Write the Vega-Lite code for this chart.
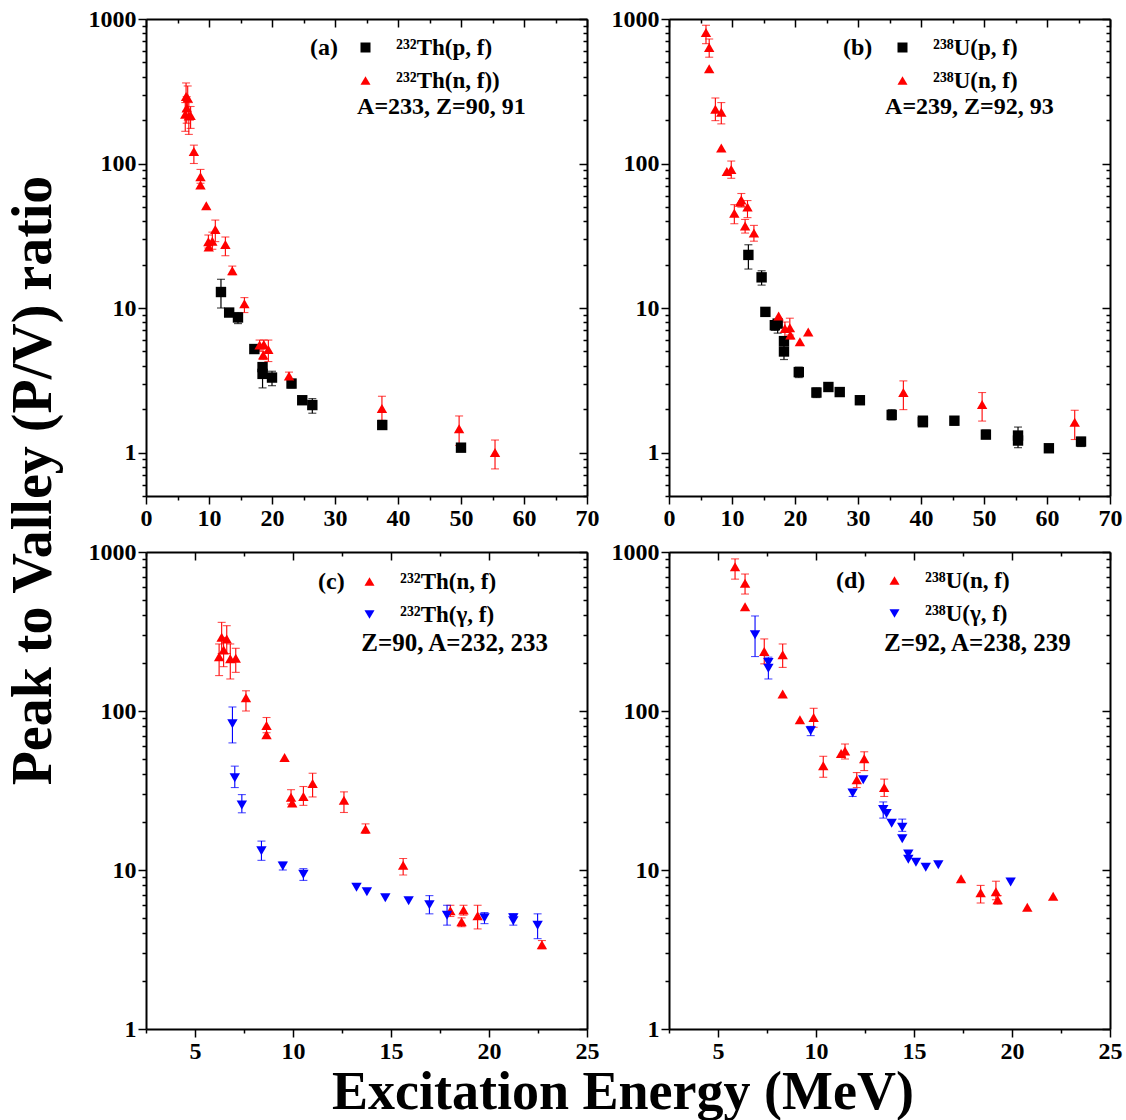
{
  "$schema": "https://vega.github.io/schema/vega-lite/v6.json",
  "background": "white",
  "padding": {"left": 5, "right": 8, "top": 7, "bottom": 0},
  "config": {
    "view": {"stroke": null},
    "font": "Liberation Serif",
    "style": {"guide-label": {"font": "Liberation Serif", "fontWeight": "bold"}, "guide-title": {"font": "Liberation Serif", "fontWeight": "bold"}},
    "axis": {"grid": false, "domainColor": "black", "domainWidth": 2, "tickColor": "black", "tickWidth": 1.5, "labelFont": "Liberation Serif", "labelFontWeight": "bold", "labelFontSize": 24, "labelColor": "black", "labelPadding": 2, "labelFlush": false, "labelOverlap": false, "labelBound": false},
    "legend": {"titleFont": "Liberation Serif", "titleFontSize": 24, "titleFontWeight": "bold", "titleColor": "black", "labelFont": "Liberation Serif", "labelFontSize": 23, "labelFontWeight": "bold", "labelColor": "black", "labelLimit": 400, "symbolStrokeWidth": 0, "titleAnchor": "start", "titleBaseline": "top"}
  },
  "datasets": {
    "a": [
      {"s": "²³²Th(p, f)", "E": 11.9, "r": 12.9, "lo": 10.0, "hi": 15.8},
      {"s": "²³²Th(p, f)", "E": 13.2, "r": 9.3, "lo": 8.8, "hi": 9.9},
      {"s": "²³²Th(p, f)", "E": 14.6, "r": 8.6, "lo": 7.8, "hi": 9.3},
      {"s": "²³²Th(p, f)", "E": 17.2, "r": 5.2},
      {"s": "²³²Th(p, f)", "E": 18.5, "r": 3.9},
      {"s": "²³²Th(p, f)", "E": 18.5, "r": 3.5, "lo": 2.8, "hi": 4.0},
      {"s": "²³²Th(p, f)", "E": 20.0, "r": 3.3, "lo": 2.9, "hi": 3.65},
      {"s": "²³²Th(p, f)", "E": 23.1, "r": 3.0, "lo": 2.8, "hi": 3.2},
      {"s": "²³²Th(p, f)", "E": 24.8, "r": 2.3, "lo": 2.2, "hi": 2.42},
      {"s": "²³²Th(p, f)", "E": 26.4, "r": 2.13, "lo": 1.87, "hi": 2.36},
      {"s": "²³²Th(p, f)", "E": 37.5, "r": 1.55, "lo": 1.47, "hi": 1.65},
      {"s": "²³²Th(p, f)", "E": 50.0, "r": 1.08},
      {"s": "²³²Th(n, f))", "E": 6.23, "r": 219, "lo": 167, "hi": 264},
      {"s": "²³²Th(n, f))", "E": 6.36, "r": 291, "lo": 230, "hi": 361},
      {"s": "²³²Th(n, f))", "E": 6.46, "r": 242, "lo": 190, "hi": 290},
      {"s": "²³²Th(n, f))", "E": 6.62, "r": 284, "lo": 230, "hi": 344},
      {"s": "²³²Th(n, f))", "E": 6.8, "r": 213, "lo": 159, "hi": 264},
      {"s": "²³²Th(n, f))", "E": 7.08, "r": 215, "lo": 175, "hi": 248},
      {"s": "²³²Th(n, f))", "E": 7.6, "r": 121, "lo": 100, "hi": 134},
      {"s": "²³²Th(n, f))", "E": 8.65, "r": 81, "lo": 73, "hi": 91},
      {"s": "²³²Th(n, f))", "E": 8.65, "r": 71},
      {"s": "²³²Th(n, f))", "E": 9.57, "r": 51},
      {"s": "²³²Th(n, f))", "E": 9.9, "r": 28.7, "lo": 26, "hi": 32},
      {"s": "²³²Th(n, f))", "E": 9.96, "r": 26.4},
      {"s": "²³²Th(n, f))", "E": 10.53, "r": 29, "lo": 25.5, "hi": 33.5},
      {"s": "²³²Th(n, f))", "E": 11.0, "r": 35, "lo": 28.8, "hi": 40.6},
      {"s": "²³²Th(n, f))", "E": 12.6, "r": 27.5, "lo": 23, "hi": 31},
      {"s": "²³²Th(n, f))", "E": 13.7, "r": 18.1, "lo": 17, "hi": 19.5},
      {"s": "²³²Th(n, f))", "E": 15.62, "r": 10.7, "lo": 9.3, "hi": 11.8},
      {"s": "²³²Th(n, f))", "E": 18.03, "r": 5.55, "lo": 5.1, "hi": 6.0},
      {"s": "²³²Th(n, f))", "E": 18.6, "r": 4.73, "lo": 4.4, "hi": 5.0},
      {"s": "²³²Th(n, f))", "E": 18.7, "r": 5.6, "lo": 5.2, "hi": 6.0},
      {"s": "²³²Th(n, f))", "E": 19.42, "r": 5.16, "lo": 4.26, "hi": 6.0},
      {"s": "²³²Th(n, f))", "E": 22.7, "r": 3.39, "lo": 3.2, "hi": 3.6},
      {"s": "²³²Th(n, f))", "E": 37.45, "r": 2.02, "lo": 1.67, "hi": 2.45},
      {"s": "²³²Th(n, f))", "E": 49.7, "r": 1.46, "lo": 1.12, "hi": 1.79},
      {"s": "²³²Th(n, f))", "E": 55.4, "r": 1.0, "lo": 0.77, "hi": 1.22}
    ],
    "b": [
      {"s": "²³⁸U(p, f)", "E": 12.6, "r": 23.3, "lo": 18.6, "hi": 27.4},
      {"s": "²³⁸U(p, f)", "E": 14.7, "r": 16.3, "lo": 14.4, "hi": 18.1},
      {"s": "²³⁸U(p, f)", "E": 15.3, "r": 9.4},
      {"s": "²³⁸U(p, f)", "E": 16.8, "r": 7.6, "lo": 7.0, "hi": 8.1},
      {"s": "²³⁸U(p, f)", "E": 17.25, "r": 7.8, "lo": 6.7, "hi": 8.3},
      {"s": "²³⁸U(p, f)", "E": 18.25, "r": 5.9},
      {"s": "²³⁸U(p, f)", "E": 18.25, "r": 5.0, "lo": 4.4, "hi": 5.5},
      {"s": "²³⁸U(p, f)", "E": 20.6, "r": 3.6, "lo": 3.3, "hi": 3.9},
      {"s": "²³⁸U(p, f)", "E": 23.4, "r": 2.6, "lo": 2.4, "hi": 2.8},
      {"s": "²³⁸U(p, f)", "E": 25.3, "r": 2.84, "lo": 2.7, "hi": 2.95},
      {"s": "²³⁸U(p, f)", "E": 27.1, "r": 2.62, "lo": 2.45, "hi": 2.8},
      {"s": "²³⁸U(p, f)", "E": 30.3, "r": 2.3, "lo": 2.15, "hi": 2.45},
      {"s": "²³⁸U(p, f)", "E": 35.35, "r": 1.82, "lo": 1.68, "hi": 1.98},
      {"s": "²³⁸U(p, f)", "E": 40.3, "r": 1.66, "lo": 1.55, "hi": 1.75},
      {"s": "²³⁸U(p, f)", "E": 40.3, "r": 1.62},
      {"s": "²³⁸U(p, f)", "E": 45.3, "r": 1.66, "lo": 1.55, "hi": 1.76},
      {"s": "²³⁸U(p, f)", "E": 50.3, "r": 1.33, "lo": 1.25, "hi": 1.43},
      {"s": "²³⁸U(p, f)", "E": 55.4, "r": 1.31, "lo": 1.2, "hi": 1.5},
      {"s": "²³⁸U(p, f)", "E": 55.4, "r": 1.21, "lo": 1.08, "hi": 1.3},
      {"s": "²³⁸U(p, f)", "E": 60.3, "r": 1.07, "lo": 1.03, "hi": 1.11},
      {"s": "²³⁸U(p, f)", "E": 65.4, "r": 1.19, "lo": 1.1, "hi": 1.27},
      {"s": "²³⁸U(n, f)", "E": 5.87, "r": 808, "lo": 675, "hi": 905},
      {"s": "²³⁸U(n, f)", "E": 6.38, "r": 635, "lo": 544, "hi": 727},
      {"s": "²³⁸U(n, f)", "E": 6.38, "r": 453},
      {"s": "²³⁸U(n, f)", "E": 7.36, "r": 237, "lo": 198, "hi": 284},
      {"s": "²³⁸U(n, f)", "E": 8.3, "r": 226, "lo": 188, "hi": 264},
      {"s": "²³⁸U(n, f)", "E": 8.3, "r": 128},
      {"s": "²³⁸U(n, f)", "E": 9.18, "r": 88},
      {"s": "²³⁸U(n, f)", "E": 9.88, "r": 91, "lo": 79, "hi": 104},
      {"s": "²³⁸U(n, f)", "E": 10.37, "r": 45.3, "lo": 38.3, "hi": 51.9},
      {"s": "²³⁸U(n, f)", "E": 11.28, "r": 54},
      {"s": "²³⁸U(n, f)", "E": 11.48, "r": 56, "lo": 49.9, "hi": 62},
      {"s": "²³⁸U(n, f)", "E": 12.08, "r": 37, "lo": 33, "hi": 41},
      {"s": "²³⁸U(n, f)", "E": 12.46, "r": 50, "lo": 42.2, "hi": 55.4},
      {"s": "²³⁸U(n, f)", "E": 13.48, "r": 33, "lo": 29, "hi": 37.3},
      {"s": "²³⁸U(n, f)", "E": 17.4, "r": 8.8},
      {"s": "²³⁸U(n, f)", "E": 18.4, "r": 7.2, "lo": 6.2, "hi": 8.0},
      {"s": "²³⁸U(n, f)", "E": 19.18, "r": 7.3, "lo": 6.5, "hi": 8.5},
      {"s": "²³⁸U(n, f)", "E": 19.27, "r": 6.5, "lo": 6.1, "hi": 6.9},
      {"s": "²³⁸U(n, f)", "E": 20.78, "r": 5.83},
      {"s": "²³⁸U(n, f)", "E": 22.1, "r": 6.83},
      {"s": "²³⁸U(n, f)", "E": 37.2, "r": 2.6, "lo": 1.98, "hi": 3.13},
      {"s": "²³⁸U(n, f)", "E": 49.7, "r": 2.15, "lo": 1.65, "hi": 2.6},
      {"s": "²³⁸U(n, f)", "E": 64.4, "r": 1.62, "lo": 1.23, "hi": 1.96}
    ],
    "c": [
      {"s": "²³²Th(n, f)", "E": 6.23, "r": 219, "lo": 167, "hi": 264},
      {"s": "²³²Th(n, f)", "E": 6.36, "r": 291, "lo": 230, "hi": 361},
      {"s": "²³²Th(n, f)", "E": 6.46, "r": 242, "lo": 190, "hi": 290},
      {"s": "²³²Th(n, f)", "E": 6.62, "r": 284, "lo": 230, "hi": 344},
      {"s": "²³²Th(n, f)", "E": 6.8, "r": 213, "lo": 159, "hi": 264},
      {"s": "²³²Th(n, f)", "E": 7.08, "r": 215, "lo": 175, "hi": 248},
      {"s": "²³²Th(n, f)", "E": 7.6, "r": 121, "lo": 100, "hi": 134},
      {"s": "²³²Th(n, f)", "E": 8.65, "r": 81, "lo": 73, "hi": 91},
      {"s": "²³²Th(n, f)", "E": 8.65, "r": 71},
      {"s": "²³²Th(n, f)", "E": 9.57, "r": 51},
      {"s": "²³²Th(n, f)", "E": 9.9, "r": 28.7, "lo": 26, "hi": 32},
      {"s": "²³²Th(n, f)", "E": 9.96, "r": 26.4},
      {"s": "²³²Th(n, f)", "E": 10.53, "r": 29, "lo": 25.5, "hi": 33.5},
      {"s": "²³²Th(n, f)", "E": 11.0, "r": 35, "lo": 28.8, "hi": 40.6},
      {"s": "²³²Th(n, f)", "E": 12.6, "r": 27.5, "lo": 23, "hi": 31},
      {"s": "²³²Th(n, f)", "E": 13.7, "r": 18.1, "lo": 17, "hi": 19.5},
      {"s": "²³²Th(n, f)", "E": 15.62, "r": 10.7, "lo": 9.3, "hi": 11.8},
      {"s": "²³²Th(n, f)", "E": 18.03, "r": 5.55, "lo": 5.1, "hi": 6.0},
      {"s": "²³²Th(n, f)", "E": 18.6, "r": 4.73, "lo": 4.4, "hi": 5.0},
      {"s": "²³²Th(n, f)", "E": 18.7, "r": 5.6, "lo": 5.2, "hi": 6.0},
      {"s": "²³²Th(n, f)", "E": 19.42, "r": 5.16, "lo": 4.26, "hi": 6.0},
      {"s": "²³²Th(n, f)", "E": 22.7, "r": 3.39, "lo": 3.2, "hi": 3.6},
      {"s": "²³²Th(γ, f)", "E": 6.91, "r": 83, "lo": 63, "hi": 106},
      {"s": "²³²Th(γ, f)", "E": 7.03, "r": 38, "lo": 33, "hi": 45},
      {"s": "²³²Th(γ, f)", "E": 7.39, "r": 25.6, "lo": 22.9, "hi": 29.8},
      {"s": "²³²Th(γ, f)", "E": 8.39, "r": 13.2, "lo": 11.5, "hi": 15.2},
      {"s": "²³²Th(γ, f)", "E": 9.48, "r": 10.6, "lo": 10.0, "hi": 11.2},
      {"s": "²³²Th(γ, f)", "E": 10.53, "r": 9.4, "lo": 8.6, "hi": 10.2},
      {"s": "²³²Th(γ, f)", "E": 13.24, "r": 7.8},
      {"s": "²³²Th(γ, f)", "E": 13.77, "r": 7.3},
      {"s": "²³²Th(γ, f)", "E": 14.71, "r": 6.7},
      {"s": "²³²Th(γ, f)", "E": 15.9, "r": 6.4},
      {"s": "²³²Th(γ, f)", "E": 16.96, "r": 6.05, "lo": 5.3, "hi": 6.9},
      {"s": "²³²Th(γ, f)", "E": 17.86, "r": 5.2, "lo": 4.5, "hi": 6.0},
      {"s": "²³²Th(γ, f)", "E": 19.77, "r": 5.0, "lo": 4.6, "hi": 5.4},
      {"s": "²³²Th(γ, f)", "E": 21.24, "r": 4.8, "lo": 4.5, "hi": 5.3},
      {"s": "²³²Th(γ, f)", "E": 21.24, "r": 5.0},
      {"s": "²³²Th(γ, f)", "E": 22.48, "r": 4.5, "lo": 3.7, "hi": 5.3}
    ],
    "d": [
      {"s": "²³⁸U(n, f)", "E": 5.87, "r": 808, "lo": 675, "hi": 905},
      {"s": "²³⁸U(n, f)", "E": 6.38, "r": 635, "lo": 544, "hi": 727},
      {"s": "²³⁸U(n, f)", "E": 6.38, "r": 453},
      {"s": "²³⁸U(n, f)", "E": 7.36, "r": 237, "lo": 198, "hi": 284},
      {"s": "²³⁸U(n, f)", "E": 8.3, "r": 226, "lo": 188, "hi": 264},
      {"s": "²³⁸U(n, f)", "E": 8.3, "r": 128},
      {"s": "²³⁸U(n, f)", "E": 9.18, "r": 88},
      {"s": "²³⁸U(n, f)", "E": 9.88, "r": 91, "lo": 79, "hi": 104},
      {"s": "²³⁸U(n, f)", "E": 10.37, "r": 45.3, "lo": 38.3, "hi": 51.9},
      {"s": "²³⁸U(n, f)", "E": 11.28, "r": 54},
      {"s": "²³⁸U(n, f)", "E": 11.48, "r": 56, "lo": 49.9, "hi": 62},
      {"s": "²³⁸U(n, f)", "E": 12.08, "r": 37, "lo": 33, "hi": 41},
      {"s": "²³⁸U(n, f)", "E": 12.46, "r": 50, "lo": 42.2, "hi": 55.4},
      {"s": "²³⁸U(n, f)", "E": 13.48, "r": 33, "lo": 29, "hi": 37.3},
      {"s": "²³⁸U(n, f)", "E": 17.4, "r": 8.8},
      {"s": "²³⁸U(n, f)", "E": 18.4, "r": 7.2, "lo": 6.2, "hi": 8.0},
      {"s": "²³⁸U(n, f)", "E": 19.18, "r": 7.3, "lo": 6.5, "hi": 8.5},
      {"s": "²³⁸U(n, f)", "E": 19.27, "r": 6.5, "lo": 6.1, "hi": 6.9},
      {"s": "²³⁸U(n, f)", "E": 20.78, "r": 5.83},
      {"s": "²³⁸U(n, f)", "E": 22.1, "r": 6.83},
      {"s": "²³⁸U(γ, f)", "E": 6.89, "r": 302, "lo": 220, "hi": 396},
      {"s": "²³⁸U(γ, f)", "E": 7.57, "r": 202},
      {"s": "²³⁸U(γ, f)", "E": 7.57, "r": 186, "lo": 159, "hi": 218},
      {"s": "²³⁸U(γ, f)", "E": 9.73, "r": 75, "lo": 70, "hi": 80},
      {"s": "²³⁸U(γ, f)", "E": 11.87, "r": 30.5, "lo": 29, "hi": 32},
      {"s": "²³⁸U(γ, f)", "E": 12.41, "r": 37},
      {"s": "²³⁸U(γ, f)", "E": 13.43, "r": 24, "lo": 21.2, "hi": 26.8},
      {"s": "²³⁸U(γ, f)", "E": 13.6, "r": 22.7},
      {"s": "²³⁸U(γ, f)", "E": 13.86, "r": 19.7},
      {"s": "²³⁸U(γ, f)", "E": 14.4, "r": 18.6, "lo": 17.5, "hi": 20.9},
      {"s": "²³⁸U(γ, f)", "E": 14.4, "r": 15.7},
      {"s": "²³⁸U(γ, f)", "E": 14.71, "r": 12.6},
      {"s": "²³⁸U(γ, f)", "E": 14.71, "r": 11.7},
      {"s": "²³⁸U(γ, f)", "E": 15.1, "r": 11.2},
      {"s": "²³⁸U(γ, f)", "E": 15.6, "r": 10.4},
      {"s": "²³⁸U(γ, f)", "E": 16.24, "r": 10.8},
      {"s": "²³⁸U(γ, f)", "E": 19.93, "r": 8.4}
    ]
  },
  "title": {"text": "Peak to Valley (P/V) ratio", "orient": "left", "anchor": "middle", "font": "Liberation Serif", "fontSize": 56, "fontWeight": "bold", "color": "black", "offset": 25, "dx": 83},
  "vconcat": [
    {
      "title": {"text": "Excitation Energy (MeV)", "orient": "bottom", "anchor": "middle", "font": "Liberation Serif", "fontSize": 54, "fontWeight": "bold", "color": "black", "offset": 3, "dx": 18},
      "spacing": 10,
      "resolve": {"scale": {"color": "independent", "shape": "independent"}},
      "vconcat": [
        {
          "spacing": 12,
          "resolve": {"scale": {"color": "independent", "shape": "independent"}},
          "hconcat": [
            {
              "width": 441, "height": 477,
              "data": {"name": "a"},
              "resolve": {"axis": {"x": "independent", "y": "independent"}},
              "layer": [
                {"transform": [{"filter": "datum.s == '²³²Th(p, f)' && isValid(datum.lo)"}],
                 "mark": {"type": "errorbar", "ticks": true, "size": 8, "thickness": 1.2, "color": "#000000"},
                 "encoding": {"x": {"field": "E", "type": "quantitative", "scale": {"domain": [0, 70], "nice": false, "zero": false}, "axis": null},
                              "y": {"field": "lo", "type": "quantitative", "scale": {"type": "log", "domain": [0.5, 1000], "nice": false}, "axis": null},
                              "y2": {"field": "hi"}}},
                {"transform": [{"filter": "datum.s == '²³²Th(n, f))' && isValid(datum.lo)"}],
                 "mark": {"type": "errorbar", "ticks": true, "size": 8, "thickness": 1.1, "color": "#ff0000"},
                 "encoding": {"x": {"field": "E", "type": "quantitative", "scale": {"domain": [0, 70], "nice": false, "zero": false}, "axis": null},
                              "y": {"field": "lo", "type": "quantitative", "scale": {"type": "log", "domain": [0.5, 1000], "nice": false}, "axis": null},
                              "y2": {"field": "hi"}}},
                {"mark": {"type": "point", "filled": true, "opacity": 1, "size": 108},
                 "encoding": {
                   "x": {"field": "E", "type": "quantitative", "scale": {"domain": [0, 70], "nice": false, "zero": false}, "title": null,
                         "axis": {"orient": "bottom", "labelFont": "Liberation Serif", "values": [0, 5, 10, 15, 20, 25, 30, 35, 40, 45, 50, 55, 60, 65, 70], "labelExpr": "datum.value % 10 == 0 ? format(datum.value, 'd') : ''", "tickSize": {"condition": {"test": "datum.value % 10 == 0", "value": 8}, "value": 4}}},
                   "y": {"field": "r", "type": "quantitative", "scale": {"type": "log", "domain": [0.5, 1000], "nice": false}, "title": null,
                         "axis": {"orient": "left", "labelFont": "Liberation Serif", "values": [0.5, 0.6, 0.7, 0.8, 0.9, 1, 2, 3, 4, 5, 6, 7, 8, 9, 10, 20, 30, 40, 50, 60, 70, 80, 90, 100, 200, 300, 400, 500, 600, 700, 800, 900, 1000], "labelExpr": "(datum.value == 1 || datum.value == 10 || datum.value == 100 || datum.value == 1000) ? format(datum.value, 'd') : ''", "tickSize": {"condition": {"test": "datum.value == 1 || datum.value == 10 || datum.value == 100 || datum.value == 1000", "value": 8}, "value": 4}}},
                   "color": {"field": "s", "type": "nominal", "scale": {"domain": ["²³²Th(p, f)", "²³²Th(n, f))"], "range": ["#000000", "#ff0000"]},
                             "legend": {"orient": "none", "legendX": 164, "legendY": 17, "title": "(a)", "titleOrient": "left", "titlePadding": 16, "symbolSize": 100, "labelOffset": 19, "rowPadding": 9}},
                   "shape": {"field": "s", "type": "nominal", "scale": {"domain": ["²³²Th(p, f)", "²³²Th(n, f))"], "range": ["square", "triangle-up"]},
                             "legend": {"orient": "none", "legendX": 164, "legendY": 17, "title": "(a)", "titleOrient": "left", "titlePadding": 16, "symbolSize": 100, "labelOffset": 19, "rowPadding": 9}}
                 }},
                {"mark": {"type": "point", "opacity": 0},
                 "encoding": {
                   "x": {"field": "E", "type": "quantitative", "scale": {"domain": [0, 70], "nice": false, "zero": false}, "title": null,
                         "axis": {"orient": "top", "labels": false, "values": [0, 5, 10, 15, 20, 25, 30, 35, 40, 45, 50, 55, 60, 65, 70], "tickSize": {"condition": {"test": "datum.value % 10 == 0", "value": -8}, "value": -4}}},
                   "y": {"field": "r", "type": "quantitative", "scale": {"type": "log", "domain": [0.5, 1000], "nice": false}, "title": null,
                         "axis": {"orient": "right", "labels": false, "values": [0.5, 0.6, 0.7, 0.8, 0.9, 1, 2, 3, 4, 5, 6, 7, 8, 9, 10, 20, 30, 40, 50, 60, 70, 80, 90, 100, 200, 300, 400, 500, 600, 700, 800, 900, 1000], "tickSize": {"condition": {"test": "datum.value == 1 || datum.value == 10 || datum.value == 100 || datum.value == 1000", "value": -8}, "value": -4}}}
                 }},
                {"data": {"values": [{}]},
                 "mark": {"type": "text", "align": "left", "baseline": "middle", "font": "Liberation Serif", "fontWeight": "bold", "fontSize": 24, "color": "black"},
                 "encoding": {"x": {"datum": 33.5, "type": "quantitative", "scale": {"domain": [0, 70], "nice": false, "zero": false}, "axis": null},
                              "y": {"datum": 245, "type": "quantitative", "scale": {"type": "log", "domain": [0.5, 1000], "nice": false}, "axis": null},
                              "text": {"value": "A=233, Z=90, 91"}}}
              ]
            },
            {
              "width": 441, "height": 477,
              "data": {"name": "b"},
              "resolve": {"axis": {"x": "independent", "y": "independent"}},
              "layer": [
                {"transform": [{"filter": "datum.s == '²³⁸U(p, f)' && isValid(datum.lo)"}],
                 "mark": {"type": "errorbar", "ticks": true, "size": 8, "thickness": 1.2, "color": "#000000"},
                 "encoding": {"x": {"field": "E", "type": "quantitative", "scale": {"domain": [0, 70], "nice": false, "zero": false}, "axis": null},
                              "y": {"field": "lo", "type": "quantitative", "scale": {"type": "log", "domain": [0.5, 1000], "nice": false}, "axis": null},
                              "y2": {"field": "hi"}}},
                {"transform": [{"filter": "datum.s == '²³⁸U(n, f)' && isValid(datum.lo)"}],
                 "mark": {"type": "errorbar", "ticks": true, "size": 8, "thickness": 1.1, "color": "#ff0000"},
                 "encoding": {"x": {"field": "E", "type": "quantitative", "scale": {"domain": [0, 70], "nice": false, "zero": false}, "axis": null},
                              "y": {"field": "lo", "type": "quantitative", "scale": {"type": "log", "domain": [0.5, 1000], "nice": false}, "axis": null},
                              "y2": {"field": "hi"}}},
                {"mark": {"type": "point", "filled": true, "opacity": 1, "size": 108},
                 "encoding": {
                   "x": {"field": "E", "type": "quantitative", "scale": {"domain": [0, 70], "nice": false, "zero": false}, "title": null,
                         "axis": {"orient": "bottom", "labelFont": "Liberation Serif", "values": [0, 5, 10, 15, 20, 25, 30, 35, 40, 45, 50, 55, 60, 65, 70], "labelExpr": "datum.value % 10 == 0 ? format(datum.value, 'd') : ''", "tickSize": {"condition": {"test": "datum.value % 10 == 0", "value": 8}, "value": 4}}},
                   "y": {"field": "r", "type": "quantitative", "scale": {"type": "log", "domain": [0.5, 1000], "nice": false}, "title": null,
                         "axis": {"orient": "left", "labelFont": "Liberation Serif", "values": [0.5, 0.6, 0.7, 0.8, 0.9, 1, 2, 3, 4, 5, 6, 7, 8, 9, 10, 20, 30, 40, 50, 60, 70, 80, 90, 100, 200, 300, 400, 500, 600, 700, 800, 900, 1000], "labelExpr": "(datum.value == 1 || datum.value == 10 || datum.value == 100 || datum.value == 1000) ? format(datum.value, 'd') : ''", "tickSize": {"condition": {"test": "datum.value == 1 || datum.value == 10 || datum.value == 100 || datum.value == 1000", "value": 8}, "value": 4}}},
                   "color": {"field": "s", "type": "nominal", "scale": {"domain": ["²³⁸U(p, f)", "²³⁸U(n, f)"], "range": ["#000000", "#ff0000"]},
                             "legend": {"orient": "none", "legendX": 174, "legendY": 17, "title": "(b)", "titleOrient": "left", "titlePadding": 18, "symbolSize": 100, "labelOffset": 19, "rowPadding": 9}},
                   "shape": {"field": "s", "type": "nominal", "scale": {"domain": ["²³⁸U(p, f)", "²³⁸U(n, f)"], "range": ["square", "triangle-up"]},
                             "legend": {"orient": "none", "legendX": 174, "legendY": 17, "title": "(b)", "titleOrient": "left", "titlePadding": 18, "symbolSize": 100, "labelOffset": 19, "rowPadding": 9}}
                 }},
                {"mark": {"type": "point", "opacity": 0},
                 "encoding": {
                   "x": {"field": "E", "type": "quantitative", "scale": {"domain": [0, 70], "nice": false, "zero": false}, "title": null,
                         "axis": {"orient": "top", "labels": false, "values": [0, 5, 10, 15, 20, 25, 30, 35, 40, 45, 50, 55, 60, 65, 70], "tickSize": {"condition": {"test": "datum.value % 10 == 0", "value": -8}, "value": -4}}},
                   "y": {"field": "r", "type": "quantitative", "scale": {"type": "log", "domain": [0.5, 1000], "nice": false}, "title": null,
                         "axis": {"orient": "right", "labels": false, "values": [0.5, 0.6, 0.7, 0.8, 0.9, 1, 2, 3, 4, 5, 6, 7, 8, 9, 10, 20, 30, 40, 50, 60, 70, 80, 90, 100, 200, 300, 400, 500, 600, 700, 800, 900, 1000], "tickSize": {"condition": {"test": "datum.value == 1 || datum.value == 10 || datum.value == 100 || datum.value == 1000", "value": -8}, "value": -4}}}
                 }},
                {"data": {"values": [{}]},
                 "mark": {"type": "text", "align": "left", "baseline": "middle", "font": "Liberation Serif", "fontWeight": "bold", "fontSize": 24, "color": "black"},
                 "encoding": {"x": {"datum": 34.3, "type": "quantitative", "scale": {"domain": [0, 70], "nice": false, "zero": false}, "axis": null},
                              "y": {"datum": 245, "type": "quantitative", "scale": {"type": "log", "domain": [0.5, 1000], "nice": false}, "axis": null},
                              "text": {"value": "A=239, Z=92, 93"}}}
              ]
            }
          ]
        },
        {
          "spacing": 12,
          "resolve": {"scale": {"color": "independent", "shape": "independent"}},
          "hconcat": [
            {
              "width": 441, "height": 477,
              "data": {"name": "c"},
              "resolve": {"axis": {"x": "independent", "y": "independent"}},
              "layer": [
                {"transform": [{"filter": "datum.s == '²³²Th(n, f)' && isValid(datum.lo)"}],
                 "mark": {"type": "errorbar", "ticks": true, "size": 8, "thickness": 1.1, "color": "#ff0000"},
                 "encoding": {"x": {"field": "E", "type": "quantitative", "scale": {"domain": [2.5, 25], "nice": false, "zero": false}, "axis": null},
                              "y": {"field": "lo", "type": "quantitative", "scale": {"type": "log", "domain": [1, 1000], "nice": false}, "axis": null},
                              "y2": {"field": "hi"}}},
                {"transform": [{"filter": "datum.s == '²³²Th(γ, f)' && isValid(datum.lo)"}],
                 "mark": {"type": "errorbar", "ticks": true, "size": 8, "thickness": 1.1, "color": "#0000ff"},
                 "encoding": {"x": {"field": "E", "type": "quantitative", "scale": {"domain": [2.5, 25], "nice": false, "zero": false}, "axis": null},
                              "y": {"field": "lo", "type": "quantitative", "scale": {"type": "log", "domain": [1, 1000], "nice": false}, "axis": null},
                              "y2": {"field": "hi"}}},
                {"mark": {"type": "point", "filled": true, "opacity": 1, "size": 108},
                 "encoding": {
                   "x": {"field": "E", "type": "quantitative", "scale": {"domain": [2.5, 25], "nice": false, "zero": false}, "title": null,
                         "axis": {"orient": "bottom", "labelFont": "Liberation Serif", "values": [2.5, 5, 7.5, 10, 12.5, 15, 17.5, 20, 22.5, 25], "labelExpr": "datum.value % 5 == 0 ? format(datum.value, 'd') : ''", "tickSize": {"condition": {"test": "datum.value % 5 == 0", "value": 8}, "value": 4}}},
                   "y": {"field": "r", "type": "quantitative", "scale": {"type": "log", "domain": [1, 1000], "nice": false}, "title": null,
                         "axis": {"orient": "left", "labelFont": "Liberation Serif", "values": [1, 2, 3, 4, 5, 6, 7, 8, 9, 10, 20, 30, 40, 50, 60, 70, 80, 90, 100, 200, 300, 400, 500, 600, 700, 800, 900, 1000], "labelExpr": "(datum.value == 1 || datum.value == 10 || datum.value == 100 || datum.value == 1000) ? format(datum.value, 'd') : ''", "tickSize": {"condition": {"test": "datum.value == 1 || datum.value == 10 || datum.value == 100 || datum.value == 1000", "value": 8}, "value": 4}}},
                   "color": {"field": "s", "type": "nominal", "scale": {"domain": ["²³²Th(n, f)", "²³²Th(γ, f)"], "range": ["#ff0000", "#0000ff"]},
                             "legend": {"orient": "none", "legendX": 172, "legendY": 18, "title": "(c)", "titleOrient": "left", "titlePadding": 13, "symbolSize": 100, "labelOffset": 19, "rowPadding": 9}},
                   "shape": {"field": "s", "type": "nominal", "scale": {"domain": ["²³²Th(n, f)", "²³²Th(γ, f)"], "range": ["triangle-up", "triangle-down"]},
                             "legend": {"orient": "none", "legendX": 172, "legendY": 18, "title": "(c)", "titleOrient": "left", "titlePadding": 13, "symbolSize": 100, "labelOffset": 19, "rowPadding": 9}}
                 }},
                {"mark": {"type": "point", "opacity": 0},
                 "encoding": {
                   "x": {"field": "E", "type": "quantitative", "scale": {"domain": [2.5, 25], "nice": false, "zero": false}, "title": null,
                         "axis": {"orient": "top", "labels": false, "values": [2.5, 5, 7.5, 10, 12.5, 15, 17.5, 20, 22.5, 25], "tickSize": {"condition": {"test": "datum.value % 5 == 0", "value": -8}, "value": -4}}},
                   "y": {"field": "r", "type": "quantitative", "scale": {"type": "log", "domain": [1, 1000], "nice": false}, "title": null,
                         "axis": {"orient": "right", "labels": false, "values": [1, 2, 3, 4, 5, 6, 7, 8, 9, 10, 20, 30, 40, 50, 60, 70, 80, 90, 100, 200, 300, 400, 500, 600, 700, 800, 900, 1000], "tickSize": {"condition": {"test": "datum.value == 1 || datum.value == 10 || datum.value == 100 || datum.value == 1000", "value": -8}, "value": -4}}}
                 }},
                {"data": {"values": [{}]},
                 "mark": {"type": "text", "align": "left", "baseline": "middle", "font": "Liberation Serif", "fontWeight": "bold", "fontSize": 25, "color": "black"},
                 "encoding": {"x": {"datum": 13.48, "type": "quantitative", "scale": {"domain": [2.5, 25], "nice": false, "zero": false}, "axis": null},
                              "y": {"datum": 268, "type": "quantitative", "scale": {"type": "log", "domain": [1, 1000], "nice": false}, "axis": null},
                              "text": {"value": "Z=90, A=232, 233"}}}
              ]
            },
            {
              "width": 441, "height": 477,
              "data": {"name": "d"},
              "resolve": {"axis": {"x": "independent", "y": "independent"}},
              "layer": [
                {"transform": [{"filter": "datum.s == '²³⁸U(n, f)' && isValid(datum.lo)"}],
                 "mark": {"type": "errorbar", "ticks": true, "size": 8, "thickness": 1.1, "color": "#ff0000"},
                 "encoding": {"x": {"field": "E", "type": "quantitative", "scale": {"domain": [2.5, 25], "nice": false, "zero": false}, "axis": null},
                              "y": {"field": "lo", "type": "quantitative", "scale": {"type": "log", "domain": [1, 1000], "nice": false}, "axis": null},
                              "y2": {"field": "hi"}}},
                {"transform": [{"filter": "datum.s == '²³⁸U(γ, f)' && isValid(datum.lo)"}],
                 "mark": {"type": "errorbar", "ticks": true, "size": 8, "thickness": 1.1, "color": "#0000ff"},
                 "encoding": {"x": {"field": "E", "type": "quantitative", "scale": {"domain": [2.5, 25], "nice": false, "zero": false}, "axis": null},
                              "y": {"field": "lo", "type": "quantitative", "scale": {"type": "log", "domain": [1, 1000], "nice": false}, "axis": null},
                              "y2": {"field": "hi"}}},
                {"mark": {"type": "point", "filled": true, "opacity": 1, "size": 108},
                 "encoding": {
                   "x": {"field": "E", "type": "quantitative", "scale": {"domain": [2.5, 25], "nice": false, "zero": false}, "title": null,
                         "axis": {"orient": "bottom", "labelFont": "Liberation Serif", "values": [2.5, 5, 7.5, 10, 12.5, 15, 17.5, 20, 22.5, 25], "labelExpr": "datum.value % 5 == 0 ? format(datum.value, 'd') : ''", "tickSize": {"condition": {"test": "datum.value % 5 == 0", "value": 8}, "value": 4}}},
                   "y": {"field": "r", "type": "quantitative", "scale": {"type": "log", "domain": [1, 1000], "nice": false}, "title": null,
                         "axis": {"orient": "left", "labelFont": "Liberation Serif", "values": [1, 2, 3, 4, 5, 6, 7, 8, 9, 10, 20, 30, 40, 50, 60, 70, 80, 90, 100, 200, 300, 400, 500, 600, 700, 800, 900, 1000], "labelExpr": "(datum.value == 1 || datum.value == 10 || datum.value == 100 || datum.value == 1000) ? format(datum.value, 'd') : ''", "tickSize": {"condition": {"test": "datum.value == 1 || datum.value == 10 || datum.value == 100 || datum.value == 1000", "value": 8}, "value": 4}}},
                   "color": {"field": "s", "type": "nominal", "scale": {"domain": ["²³⁸U(n, f)", "²³⁸U(γ, f)"], "range": ["#ff0000", "#0000ff"]},
                             "legend": {"orient": "none", "legendX": 167, "legendY": 17, "title": "(d)", "titleOrient": "left", "titlePadding": 17, "symbolSize": 100, "labelOffset": 19, "rowPadding": 9}},
                   "shape": {"field": "s", "type": "nominal", "scale": {"domain": ["²³⁸U(n, f)", "²³⁸U(γ, f)"], "range": ["triangle-up", "triangle-down"]},
                             "legend": {"orient": "none", "legendX": 167, "legendY": 17, "title": "(d)", "titleOrient": "left", "titlePadding": 17, "symbolSize": 100, "labelOffset": 19, "rowPadding": 9}}
                 }},
                {"mark": {"type": "point", "opacity": 0},
                 "encoding": {
                   "x": {"field": "E", "type": "quantitative", "scale": {"domain": [2.5, 25], "nice": false, "zero": false}, "title": null,
                         "axis": {"orient": "top", "labels": false, "values": [2.5, 5, 7.5, 10, 12.5, 15, 17.5, 20, 22.5, 25], "tickSize": {"condition": {"test": "datum.value % 5 == 0", "value": -8}, "value": -4}}},
                   "y": {"field": "r", "type": "quantitative", "scale": {"type": "log", "domain": [1, 1000], "nice": false}, "title": null,
                         "axis": {"orient": "right", "labels": false, "values": [1, 2, 3, 4, 5, 6, 7, 8, 9, 10, 20, 30, 40, 50, 60, 70, 80, 90, 100, 200, 300, 400, 500, 600, 700, 800, 900, 1000], "tickSize": {"condition": {"test": "datum.value == 1 || datum.value == 10 || datum.value == 100 || datum.value == 1000", "value": -8}, "value": -4}}}
                 }},
                {"data": {"values": [{}]},
                 "mark": {"type": "text", "align": "left", "baseline": "middle", "font": "Liberation Serif", "fontWeight": "bold", "fontSize": 25, "color": "black"},
                 "encoding": {"x": {"datum": 13.47, "type": "quantitative", "scale": {"domain": [2.5, 25], "nice": false, "zero": false}, "axis": null},
                              "y": {"datum": 268, "type": "quantitative", "scale": {"type": "log", "domain": [1, 1000], "nice": false}, "axis": null},
                              "text": {"value": "Z=92, A=238, 239"}}}
              ]
            }
          ]
        }
      ]
    }
  ]
}
